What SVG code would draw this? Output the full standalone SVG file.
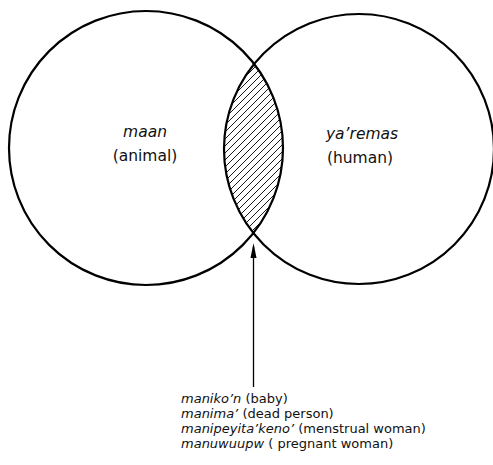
<svg xmlns="http://www.w3.org/2000/svg" width="493" height="465" viewBox="0 0 493 465">
<style>
.circ{fill:none;stroke:#000;stroke-width:2.2}
.lbl{font-family:"DejaVu Sans",sans-serif;font-size:15.5px;fill:#111;text-anchor:middle}
.it{font-style:italic}
.list{font-family:"DejaVu Sans",sans-serif;font-size:13px;fill:#111}
.conn{stroke:#000;stroke-width:1.3;fill:none}
</style>
<defs>
<pattern id="hatch" patternUnits="userSpaceOnUse" width="7" height="7">
<path d="M-1,8 L8,-1 M-4,4 L4,-4 M3,11 L11,3" stroke="#000" stroke-width="0.9"/>
</pattern>
<clipPath id="leftClip"><circle cx="146" cy="148" r="137"/></clipPath>
</defs>
<g id="intersection">
<circle cx="359" cy="149" r="135" fill="url(#hatch)" clip-path="url(#leftClip)"/>
</g>
<g id="animal">
<circle class="circ" cx="146" cy="148" r="137"/>
<text class="lbl it" x="145" y="137">maan</text>
<text class="lbl" x="145" y="161">(animal)</text>
</g>
<g id="human">
<circle class="circ" cx="359" cy="149" r="135"/>
<text class="lbl it" x="362" y="139">ya’remas</text>
<text class="lbl" x="360" y="163">(human)</text>
</g>
<g id="connectors">
<line class="conn" x1="253.5" y1="387" x2="253.5" y2="247"/>
<path d="M250.5,258 L253.5,243 L256.5,258 Z" fill="#000"/>
</g>
<g id="examples">
<text class="list" x="181" y="403"><tspan font-style="italic">maniko’n</tspan> (baby)</text>
<text class="list" x="181" y="418"><tspan font-style="italic">manima’</tspan> (dead person)</text>
<text class="list" x="181" y="433"><tspan font-style="italic">manipeyita’keno’</tspan> (menstrual woman)</text>
<text class="list" x="181" y="448"><tspan font-style="italic">manuwuupw</tspan> ( pregnant woman)</text>
</g>
</svg>
